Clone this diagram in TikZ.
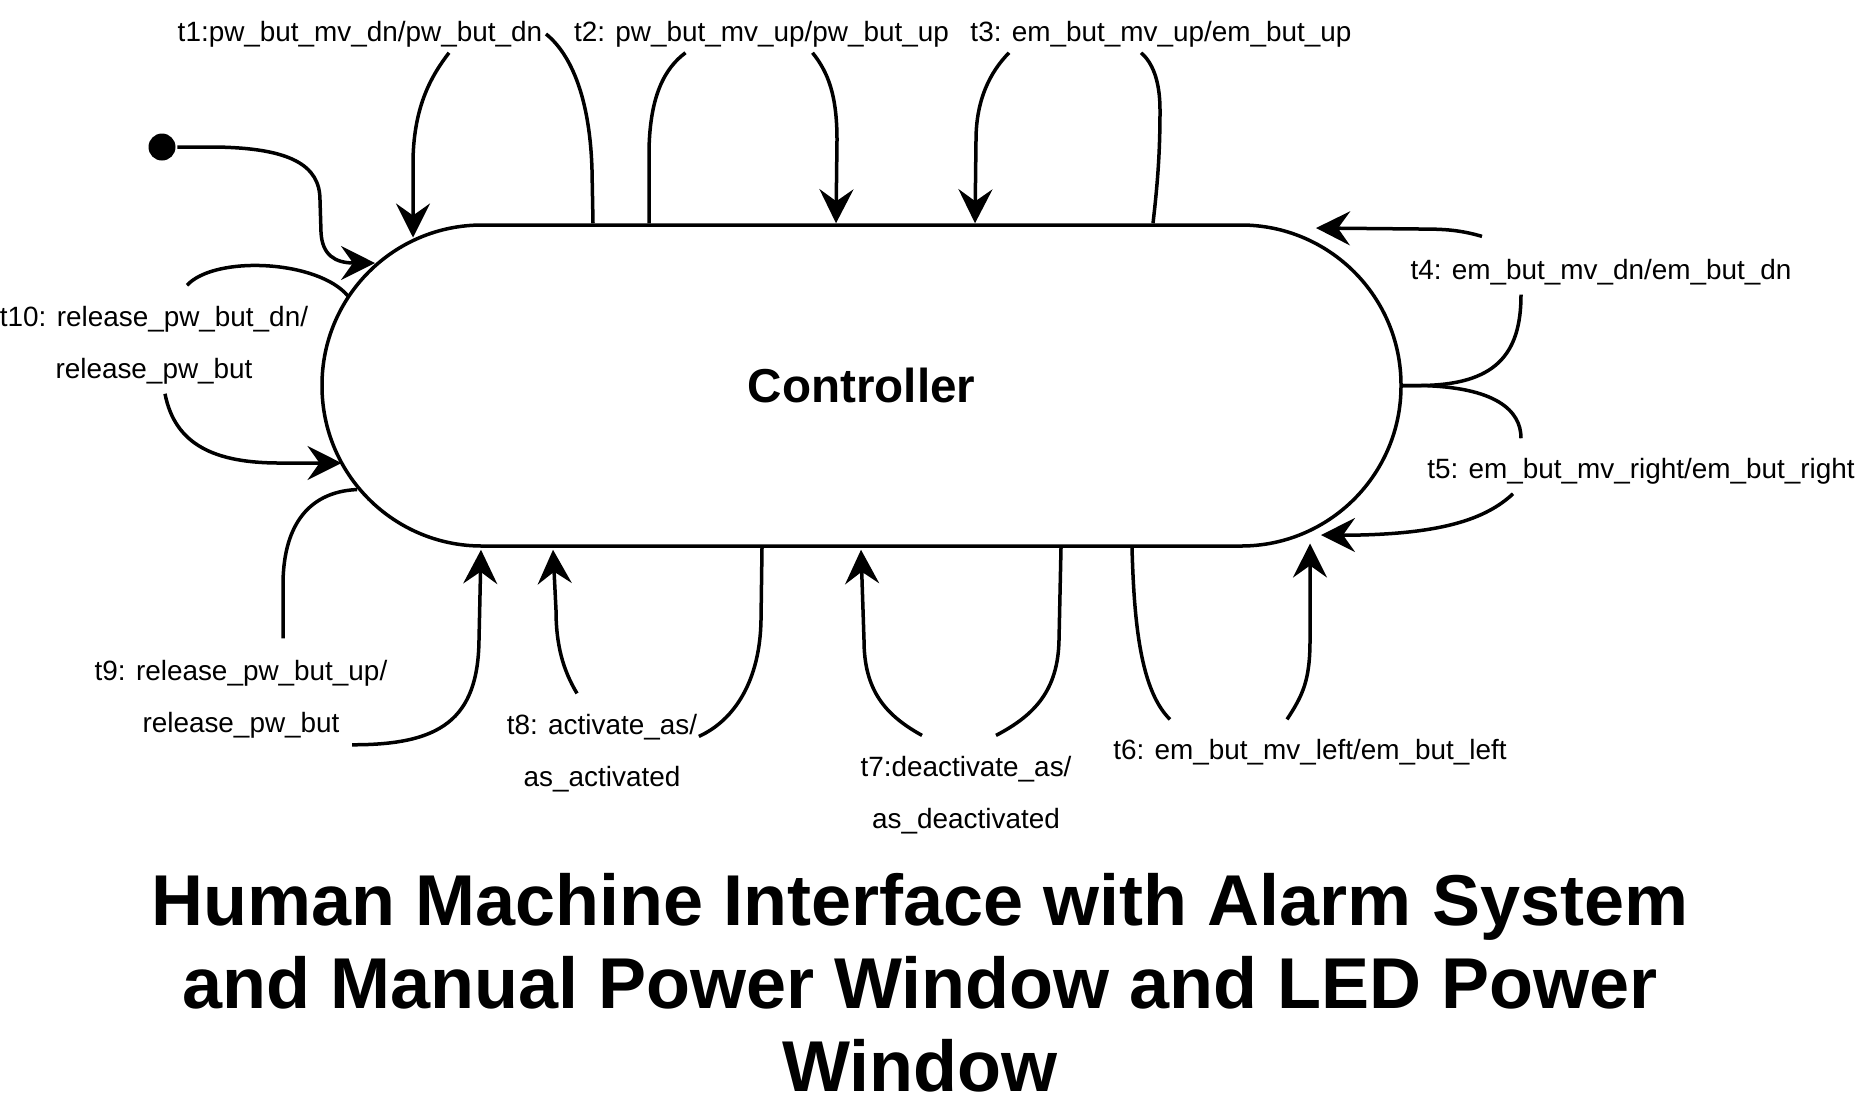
\documentclass[tikz,border=0pt]{standalone}
\usepackage{fontspec}
\setmainfont{Liberation Sans}
\usetikzlibrary{arrows.meta,calc}

\tikzset{
  lbl/.style={font=\fontsize{13.95pt}{26pt}\selectfont, align=center, inner sep=1pt},
  state/.style={draw, rounded corners=80pt, minimum width=539.5pt, minimum height=160.5pt, inner sep=0pt},
}

\begin{document}
\begin{tikzpicture}[x=0.5pt, y=-0.5pt, line width=1.75pt, line join=round, >={Stealth[length=17pt,width=17pt,inset=6pt]}]
\useasboundingbox (0,0) rectangle (1856,1116);
\node[state, font=\fontsize{23.8pt}{28pt}\selectfont\bfseries] (ctrl) at (861.5,385.5) {Controller};
\node[circle, fill, minimum size=13.5pt, inner sep=0pt] (init) at (162,147) {};
% transition labels
\node[lbl] (t1) at (360,34) {t1:pw\_but\_mv\_dn/pw\_but\_dn};
\node[lbl] (t2) at (761.5,34) {t2: pw\_but\_mv\_up/pw\_but\_up};
\node[lbl] (t3) at (1161,34) {t3: em\_but\_mv\_up/em\_but\_up};
\node[lbl] (t4) at (1601,272) {t4: em\_but\_mv\_dn/em\_but\_dn};
\node[lbl] (t5) at (1641,471) {t5: em\_but\_mv\_right/em\_but\_right};
\node[lbl] (t6) at (1310,752) {t6: em\_but\_mv\_left/em\_but\_left};
\node[lbl] (t7) at (966,795) {t7:deactivate\_as/\\as\_deactivated};
\node[lbl] (t8) at (602,753) {t8: activate\_as/\\as\_activated};
\node[lbl] (t9) at (241,699) {t9: release\_pw\_but\_up/\\release\_pw\_but};
\node[lbl] (t10) at (154,345) {t10: release\_pw\_but\_dn/\\release\_pw\_but};
\node[anchor=north, inner sep=0pt, align=center, font=\fontsize{36pt}{41.5pt}\selectfont\bfseries] (title) at (920,872)
  {Human Machine Interface with Alarm System\\and Manual Power Window and LED Power\\Window};

\draw[->] (init.east) -- (215,147) .. controls (290,148) and (320,165) .. (320,200) -- (321,232) .. controls (322,255) and (335,263) .. ($(ctrl.center)+(-486.5,-122.5)$);
% top
\draw ($(ctrl.north)+(-268.5,0)$) -- (592,170) .. controls (590,100) and (572,55) .. (t1.east);
\draw[->] ($(t1.south)+(89,2)$) .. controls (432,75) and (414,105) .. (413,160) -- ($(ctrl.center)+(-448.5,-148)$);
\draw ($(ctrl.north)+(-212.5,0)$) -- (649,150) .. controls (650,95) and (665,68) .. ($(t2.south)+(-76,2)$);
\draw[->] ($(t2.south)+(51,2)$) .. controls (828,72) and (837,95) .. (837,140) -- ($(ctrl.north)+(-25.5,0)$);
\draw[->] ($(t3.south)+(-152,2)$) .. controls (990,72) and (976,100) .. (976,140) -- ($(ctrl.north)+(113.5,0)$);
\draw ($(ctrl.north)+(291.5,0)$) .. controls (1158,180) and (1160,150) .. (1160,110) .. controls (1160,80) and (1152,62) .. ($(t3.south)+(-20,2)$);
% right
\draw[->] ($(t4.north)+(-119,-19)$) .. controls (1460,230) and (1445,229) .. (1420,229) -- ($(ctrl.center)+(454.5,-157.5)$);
\draw (ctrl.east) -- (1420,385.5) .. controls (1495,385) and (1521,355) .. ($(t4.south)+(-80,6)$);
\draw (ctrl.east) -- (1420,385.5) .. controls (1495,387) and (1521,410) .. ($(t5.north)+(-120,-16)$);
\draw[->] ($(t5.south)+(-128,6)$) .. controls (1485,520) and (1440,533) .. (1360,535) -- ($(ctrl.center)+(459.5,149.5)$);
% bottom
\draw[->] ($(t6.north)+(-23,-16)$) .. controls (1303,695) and (1310,680) .. (1310,640) -- ($(ctrl.center)+(448.5,158)$);
\draw ($(ctrl.south)+(270.5,0)$) .. controls (1134,620) and (1140,690) .. ($(t6.north)+(-140,-16)$);
\draw[->] ($(t7.north)+(-44,-17)$) .. controls (885,715) and (864,690) .. (864,640) -- ($(ctrl.south)+(-0.5,2)$);
\draw ($(ctrl.south)+(199.5,0)$) -- (1059,640) .. controls (1058,690) and (1035,715) .. ($(t7.north)+(30,-17)$);
\draw[->] ($(t8.north)+(-25,-17)$) .. controls (563,670) and (556,645) .. (556,610) -- ($(ctrl.south)+(-308.5,2)$);
\draw ($(ctrl.south)+(-99.5,0)$) -- (761,620) .. controls (760,680) and (735,720) .. ($(t8.north east)+(-2,26)$);
% left
\draw ($(ctrl.center)+(-504.5,104)$) .. controls (305,492) and (283,530) .. (283,585) -- ($(t9.north)+(42,-18)$);
\draw[->] ($(t9.south)+(111,3)$) .. controls (440,745) and (478,720) .. (479,640) -- ($(ctrl.south)+(-380.5,2)$);
\draw ($(ctrl.center)+(-513.5,-89.5)$) .. controls (318,260) and (215,255) .. ($(t10.north)+(33,-17)$);
\draw[->] ($(t10.south)+(11,6)$) .. controls (175,445) and (215,463) .. (280,463) -- ($(ctrl.center)+(-520,77.5)$);
\end{tikzpicture}
\end{document}
